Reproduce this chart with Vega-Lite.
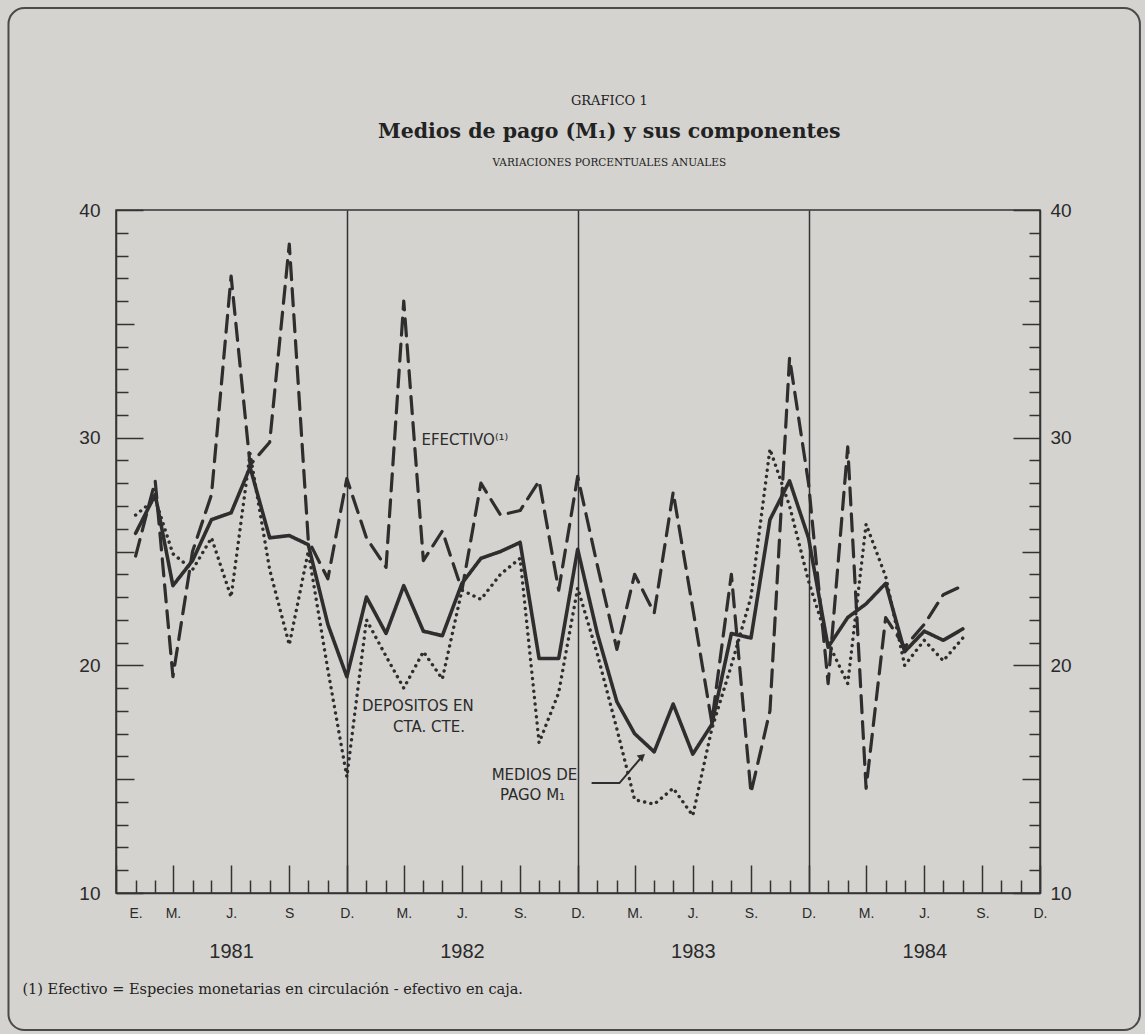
{
  "$schema": "https://vega.github.io/schema/vega-lite/v6.json",
  "width": 924,
  "height": 683,
  "autosize": "none",
  "padding": {"left": 116, "top": 210, "right": 105, "bottom": 141},
  "background": "#d4d3d0",
  "config": {
    "view": {"stroke": "#333333", "strokeWidth": 1.5},
    "axis": {"domainColor": "#333333", "tickColor": "#333333", "labelColor": "#2a2a2a", "domainWidth": 1.5, "tickWidth": 1.5, "labelFont": "Liberation Sans"}
  },
  "datasets": {
    "series": [
      {"mes": "1981-01-01T00:00", "Efectivo": 24.8, "Depositos": 26.6, "M1": 25.8},
      {"mes": "1981-02-01T00:00", "Efectivo": 28.1, "Depositos": 27.3, "M1": 27.5},
      {"mes": "1981-03-01T00:00", "Efectivo": 19.5, "Depositos": 24.9, "M1": 23.5},
      {"mes": "1981-04-01T00:00", "Efectivo": 25.0, "Depositos": 24.2, "M1": 24.6},
      {"mes": "1981-05-01T00:00", "Efectivo": 27.5, "Depositos": 25.6, "M1": 26.4},
      {"mes": "1981-06-01T00:00", "Efectivo": 37.1, "Depositos": 23.0, "M1": 26.7},
      {"mes": "1981-07-01T00:00", "Efectivo": 28.8, "Depositos": 29.3, "M1": 28.7},
      {"mes": "1981-08-01T00:00", "Efectivo": 29.8, "Depositos": 24.2, "M1": 25.6},
      {"mes": "1981-09-01T00:00", "Efectivo": 38.5, "Depositos": 20.9, "M1": 25.7},
      {"mes": "1981-10-01T00:00", "Efectivo": 25.5, "Depositos": 25.0, "M1": 25.3},
      {"mes": "1981-11-01T00:00", "Efectivo": 23.8, "Depositos": 19.8, "M1": 21.8},
      {"mes": "1981-12-01T00:00", "Efectivo": 28.2, "Depositos": 15.1, "M1": 19.5},
      {"mes": "1982-01-01T00:00", "Efectivo": 25.6, "Depositos": 22.0, "M1": 23.0},
      {"mes": "1982-02-01T00:00", "Efectivo": 24.3, "Depositos": 20.4, "M1": 21.4},
      {"mes": "1982-03-01T00:00", "Efectivo": 36.0, "Depositos": 19.0, "M1": 23.5},
      {"mes": "1982-04-01T00:00", "Efectivo": 24.6, "Depositos": 20.6, "M1": 21.5},
      {"mes": "1982-05-01T00:00", "Efectivo": 25.9, "Depositos": 19.4, "M1": 21.3},
      {"mes": "1982-06-01T00:00", "Efectivo": 23.3, "Depositos": 23.3, "M1": 23.6},
      {"mes": "1982-07-01T00:00", "Efectivo": 28.0, "Depositos": 22.9, "M1": 24.7},
      {"mes": "1982-08-01T00:00", "Efectivo": 26.6, "Depositos": 24.0, "M1": 25.0},
      {"mes": "1982-09-01T00:00", "Efectivo": 26.8, "Depositos": 24.7, "M1": 25.4},
      {"mes": "1982-10-01T00:00", "Efectivo": 28.1, "Depositos": 16.6, "M1": 20.3},
      {"mes": "1982-11-01T00:00", "Efectivo": 23.3, "Depositos": 18.8, "M1": 20.3},
      {"mes": "1982-12-01T00:00", "Efectivo": 28.3, "Depositos": 23.4, "M1": 25.1},
      {"mes": "1983-01-01T00:00", "Efectivo": 24.4, "Depositos": 20.5, "M1": 21.4},
      {"mes": "1983-02-01T00:00", "Efectivo": 20.7, "Depositos": 17.2, "M1": 18.4},
      {"mes": "1983-03-01T00:00", "Efectivo": 24.0, "Depositos": 14.1, "M1": 17.0},
      {"mes": "1983-04-01T00:00", "Efectivo": 22.3, "Depositos": 13.9, "M1": 16.2},
      {"mes": "1983-05-01T00:00", "Efectivo": 27.6, "Depositos": 14.6, "M1": 18.3},
      {"mes": "1983-06-01T00:00", "Efectivo": 22.5, "Depositos": 13.4, "M1": 16.1},
      {"mes": "1983-07-01T00:00", "Efectivo": 17.5, "Depositos": 17.2, "M1": 17.4},
      {"mes": "1983-08-01T00:00", "Efectivo": 24.0, "Depositos": 20.0, "M1": 21.4},
      {"mes": "1983-09-01T00:00", "Efectivo": 14.4, "Depositos": 23.0, "M1": 21.2},
      {"mes": "1983-10-01T00:00", "Efectivo": 18.0, "Depositos": 29.5, "M1": 26.4},
      {"mes": "1983-11-01T00:00", "Efectivo": 33.5, "Depositos": 27.0, "M1": 28.1},
      {"mes": "1983-12-01T00:00", "Efectivo": 28.0, "Depositos": 23.7, "M1": 25.6},
      {"mes": "1984-01-01T00:00", "Efectivo": 19.2, "Depositos": 21.0, "M1": 20.8},
      {"mes": "1984-02-01T00:00", "Efectivo": 29.6, "Depositos": 19.2, "M1": 22.1},
      {"mes": "1984-03-01T00:00", "Efectivo": 14.6, "Depositos": 26.2, "M1": 22.7},
      {"mes": "1984-04-01T00:00", "Efectivo": 22.1, "Depositos": 23.9, "M1": 23.6},
      {"mes": "1984-05-01T00:00", "Efectivo": 20.8, "Depositos": 20.0, "M1": 20.6},
      {"mes": "1984-06-01T00:00", "Efectivo": 21.8, "Depositos": 21.1, "M1": 21.5},
      {"mes": "1984-07-01T00:00", "Efectivo": 23.1, "Depositos": 20.2, "M1": 21.1},
      {"mes": "1984-08-01T00:00", "Efectivo": 23.5, "Depositos": 21.2, "M1": 21.6}
    ],
    "etiquetas": [
      {"fecha": "1982-03-29T00:00", "valor": 29.9, "texto": "EFECTIVO⁽¹⁾"},
      {"fecha": "1981-12-25T00:00", "valor": 18.2, "texto": "DEPOSITOS EN"},
      {"fecha": "1982-02-12T00:00", "valor": 17.3, "texto": "CTA. CTE."},
      {"fecha": "1982-07-18T00:00", "valor": 15.2, "texto": "MEDIOS DE"},
      {"fecha": "1982-07-31T00:00", "valor": 14.3, "texto": "PAGO M₁"}
    ],
    "guia": [
      {"fecha": "1982-12-23T00:00", "valor": 14.83},
      {"fecha": "1983-02-05T00:00", "valor": 14.83},
      {"fecha": "1983-03-13T00:00", "valor": 16.0}
    ],
    "flecha": [
      {"fecha": "1983-03-13T00:00", "valor": 16.0}
    ],
    "encabezado": [
      {"fecha": "1983-01-20T00:00", "valor": 44.8, "texto": "GRAFICO 1"}
    ],
    "titulo": [
      {"fecha": "1983-01-20T00:00", "valor": 43.43, "texto": "Medios de pago (M₁) y sus componentes"}
    ],
    "subtitulo": [
      {"fecha": "1983-01-20T00:00", "valor": 42.06, "texto": "VARIACIONES PORCENTUALES ANUALES"}
    ],
    "nota": [
      {"fecha": "1980-07-06T00:00", "valor": 5.75, "texto": "(1) Efectivo = Especies monetarias en circulación - efectivo en caja."}
    ]
  },
  "layer": [
    {
      "data": {"values": [{}]},
      "mark": {"type": "rect", "fillOpacity": 0, "stroke": "#4a4a4a", "strokeWidth": 2, "cornerRadius": 16},
      "encoding": {
        "x": {"datum": {"year": 1980, "month": 6, "date": 14}, "type": "temporal", "scale": {"domain": [{"year": 1980, "month": 12, "date": 1}, {"year": 1984, "month": 12, "date": 1}], "nice": false}, "axis": null},
        "x2": {"datum": {"year": 1985, "month": 5, "date": 8}},
        "y": {"datum": 48.87, "type": "quantitative", "scale": {"domain": [10, 40], "nice": false, "zero": false}, "axis": null},
        "y2": {"datum": 3.98}
      }
    },
    {
      "data": {"name": "series"},
      "transform": [{"fold": ["Efectivo", "Depositos", "M1"], "as": ["serie", "valor"]}],
      "mark": {"type": "line", "strokeCap": "round", "strokeJoin": "round", "color": "#2e2e2e"},
      "encoding": {
        "x": {
          "field": "mes", "type": "temporal",
          "scale": {"domain": [{"year": 1980, "month": 12, "date": 1}, {"year": 1984, "month": 12, "date": 1}], "nice": false},
          "axis": {
            "orient": "bottom", "title": null, "labels": false, "domain": true, "ticks": true,
            "tickCount": {"interval": "month", "step": 1},
            "tickSize": {"condition": {"test": "month(datum.value) % 3 == 2", "value": -28}, "value": -13},
            "grid": true, "gridColor": "#333333", "gridWidth": 1.5,
            "gridOpacity": {"condition": {"test": "month(datum.value) == 11 && year(datum.value) > 1980 && year(datum.value) < 1984", "value": 1}, "value": 0}
          }
        },
        "y": {
          "field": "valor", "type": "quantitative",
          "scale": {"domain": [10, 40], "nice": false, "zero": false},
          "axis": {
            "orient": "left", "title": null, "grid": false, "domain": true,
            "values": [10,11,12,13,14,15,16,17,18,19,20,21,22,23,24,25,26,27,28,29,30,31,32,33,34,35,36,37,38,39,40],
            "tickSize": {"condition": [{"test": "datum.value % 10 == 0", "value": -27}, {"test": "datum.value % 5 == 0", "value": -18}], "value": -12},
            "labelExpr": "datum.value % 10 == 0 ? datum.label : ''",
            "labelFontSize": 19, "labelPadding": 43, "labelOverlap": false, "labelBound": false, "labelFlush": false
          }
        },
        "strokeDash": {"field": "serie", "type": "nominal", "scale": {"domain": ["Efectivo", "Depositos", "M1"], "range": [[17, 9], [0.1, 6.3], [1, 0]]}, "legend": null},
        "strokeWidth": {"field": "serie", "type": "nominal", "scale": {"domain": ["Efectivo", "Depositos", "M1"], "range": [3.2, 3.6, 2.8]}, "legend": null}
      }
    },
    {
      "data": {"name": "series"},
      "mark": {"type": "line", "opacity": 0},
      "encoding": {
        "x": {
          "field": "mes", "type": "temporal",
          "scale": {"domain": [{"year": 1980, "month": 12, "date": 1}, {"year": 1984, "month": 12, "date": 1}], "nice": false},
          "axis": {
            "orient": "bottom", "title": null, "ticks": false, "domain": false, "grid": false,
            "tickCount": {"interval": "month", "step": 1},
            "labelExpr": "month(datum.value) == 0 && year(datum.value) == 1981 ? 'E.' : month(datum.value) == 2 ? 'M.' : month(datum.value) == 5 ? 'J.' : month(datum.value) == 8 ? (year(datum.value) == 1981 ? 'S' : 'S.') : (month(datum.value) == 11 && year(datum.value) > 1980) ? 'D.' : ''",
            "labelFontSize": 14, "labelPadding": 13, "labelOverlap": false, "labelBound": false, "labelFlush": false
          }
        },
        "y": {
          "field": "M1", "type": "quantitative",
          "scale": {"domain": [10, 40], "nice": false, "zero": false},
          "axis": {
            "orient": "right", "title": null, "grid": false, "domain": true,
            "values": [10,11,12,13,14,15,16,17,18,19,20,21,22,23,24,25,26,27,28,29,30,31,32,33,34,35,36,37,38,39,40],
            "tickSize": {"condition": [{"test": "datum.value % 10 == 0", "value": -27}, {"test": "datum.value % 5 == 0", "value": -18}], "value": -11},
            "labelExpr": "datum.value % 10 == 0 ? datum.label : ''",
            "labelFontSize": 19, "labelPadding": 37, "labelOverlap": false, "labelBound": false, "labelFlush": false
          }
        }
      }
    },
    {
      "data": {"name": "series"},
      "mark": {"type": "line", "opacity": 0},
      "encoding": {
        "x": {
          "field": "mes", "type": "temporal",
          "scale": {"domain": [{"year": 1980, "month": 12, "date": 1}, {"year": 1984, "month": 12, "date": 1}], "nice": false},
          "axis": {
            "orient": "bottom", "title": null, "ticks": false, "domain": false, "grid": false,
            "values": [{"year": 1981, "month": 6, "date": 1}, {"year": 1982, "month": 6, "date": 1}, {"year": 1983, "month": 6, "date": 1}, {"year": 1984, "month": 6, "date": 1}],
            "labelExpr": "timeFormat(datum.value, '%Y')",
            "labelFontSize": 20, "labelPadding": 48, "labelOverlap": false, "labelBound": false, "labelFlush": false
          }
        },
        "y": {"field": "M1", "type": "quantitative", "scale": {"domain": [10, 40], "nice": false, "zero": false}, "axis": null}
      }
    },
    {
      "data": {"name": "etiquetas"},
      "mark": {"type": "text", "align": "left", "baseline": "middle", "font": "DejaVu Sans", "fontSize": 15, "color": "#2b2b2b"},
      "encoding": {
        "x": {"field": "fecha", "type": "temporal", "scale": {"domain": [{"year": 1980, "month": 12, "date": 1}, {"year": 1984, "month": 12, "date": 1}], "nice": false}, "axis": null},
        "y": {"field": "valor", "type": "quantitative", "scale": {"domain": [10, 40], "nice": false, "zero": false}, "axis": null},
        "text": {"field": "texto"}
      }
    },
    {
      "data": {"name": "guia"},
      "mark": {"type": "line", "color": "#2e2e2e", "strokeWidth": 2},
      "encoding": {
        "x": {"field": "fecha", "type": "temporal", "scale": {"domain": [{"year": 1980, "month": 12, "date": 1}, {"year": 1984, "month": 12, "date": 1}], "nice": false}, "axis": null},
        "y": {"field": "valor", "type": "quantitative", "scale": {"domain": [10, 40], "nice": false, "zero": false}, "axis": null}
      }
    },
    {
      "data": {"name": "flecha"},
      "mark": {"type": "point", "shape": "triangle-up", "filled": true, "angle": 49, "size": 70, "color": "#2e2e2e", "opacity": 1},
      "encoding": {
        "x": {"field": "fecha", "type": "temporal", "scale": {"domain": [{"year": 1980, "month": 12, "date": 1}, {"year": 1984, "month": 12, "date": 1}], "nice": false}, "axis": null},
        "y": {"field": "valor", "type": "quantitative", "scale": {"domain": [10, 40], "nice": false, "zero": false}, "axis": null}
      }
    },
    {
      "data": {"name": "encabezado"},
      "mark": {"type": "text", "align": "center", "baseline": "middle", "font": "DejaVu Serif", "fontSize": 13, "color": "#222222"},
      "encoding": {
        "x": {"field": "fecha", "type": "temporal", "scale": {"domain": [{"year": 1980, "month": 12, "date": 1}, {"year": 1984, "month": 12, "date": 1}], "nice": false}, "axis": null},
        "y": {"field": "valor", "type": "quantitative", "scale": {"domain": [10, 40], "nice": false, "zero": false}, "axis": null},
        "text": {"field": "texto"}
      }
    },
    {
      "data": {"name": "titulo"},
      "mark": {"type": "text", "align": "center", "baseline": "middle", "font": "DejaVu Serif", "fontSize": 20.5, "fontWeight": "bold", "color": "#222222"},
      "encoding": {
        "x": {"field": "fecha", "type": "temporal", "scale": {"domain": [{"year": 1980, "month": 12, "date": 1}, {"year": 1984, "month": 12, "date": 1}], "nice": false}, "axis": null},
        "y": {"field": "valor", "type": "quantitative", "scale": {"domain": [10, 40], "nice": false, "zero": false}, "axis": null},
        "text": {"field": "texto"}
      }
    },
    {
      "data": {"name": "subtitulo"},
      "mark": {"type": "text", "align": "center", "baseline": "middle", "font": "DejaVu Serif", "fontSize": 10.5, "color": "#222222"},
      "encoding": {
        "x": {"field": "fecha", "type": "temporal", "scale": {"domain": [{"year": 1980, "month": 12, "date": 1}, {"year": 1984, "month": 12, "date": 1}], "nice": false}, "axis": null},
        "y": {"field": "valor", "type": "quantitative", "scale": {"domain": [10, 40], "nice": false, "zero": false}, "axis": null},
        "text": {"field": "texto"}
      }
    },
    {
      "data": {"name": "nota"},
      "mark": {"type": "text", "align": "left", "baseline": "middle", "font": "DejaVu Serif", "fontSize": 14.5, "color": "#222222"},
      "encoding": {
        "x": {"field": "fecha", "type": "temporal", "scale": {"domain": [{"year": 1980, "month": 12, "date": 1}, {"year": 1984, "month": 12, "date": 1}], "nice": false}, "axis": null},
        "y": {"field": "valor", "type": "quantitative", "scale": {"domain": [10, 40], "nice": false, "zero": false}, "axis": null},
        "text": {"field": "texto"}
      }
    }
  ],
  "resolve": {"axis": {"x": "independent", "y": "independent"}}
}
